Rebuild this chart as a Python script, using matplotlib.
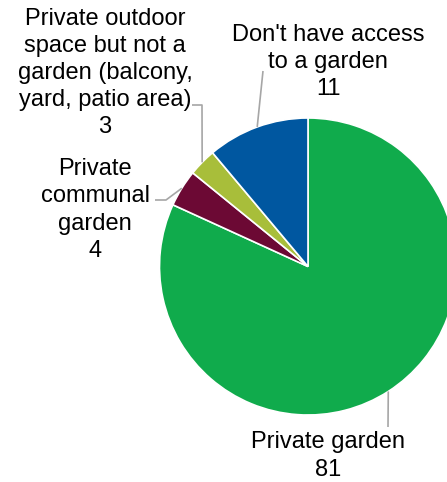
import numpy as np
import matplotlib
matplotlib.use("Agg")
import matplotlib.pyplot as plt

categories = ["Private garden", "Private\ncommunal\ngarden",
              "Private outdoor\nspace but not a\ngarden (balcony,\nyard, patio area)",
              "Don't have access\nto a garden"]
values = [81, 4, 3, 11]
colors = ["#10AB4C", "#6C0934", "#A8BE3A", "#0057A0"]

W, H = 447, 482
fig = plt.figure(figsize=(W / 100, H / 100), dpi=100)
ax = fig.add_axes([0, 0, 1, 1])

cx, cy, r = 308, H - 266.5, 148.5
wedges, _ = ax.pie(values, colors=colors, startangle=90, counterclock=False,
                   center=(cx, cy), radius=r, frame=True,
                   wedgeprops=dict(edgecolor="white", linewidth=1.2))
ax.set_xlim(0, W)
ax.set_ylim(0, H)
ax.axis("off")

# label layout: (leader path after anchor in pixel coords, text center)
layout = [
    ([(388, 427)], (328, 456)),
    ([(166, 200), (155, 200)], (95, 210)),
    ([(202, 105), (192, 105)], (105, 73)),
    ([(263, 71)], (328, 62)),
]
lc = "#A6A6A6"
for w, v, cat, (path, (tx, ty)) in zip(wedges, values, categories, layout):
    mid = np.deg2rad((w.theta1 + w.theta2) / 2)
    ax_ = cx + r * np.cos(mid)
    ay_ = cy + r * np.sin(mid)
    xs = [ax_] + [p[0] for p in path]
    ys = [ay_] + [H - p[1] for p in path]
    ax.plot(xs, ys, color=lc, lw=1.2, solid_capstyle="butt")
    ax.text(tx, H - ty, f"{cat}\n{v}", ha="center", va="center",
            fontsize=17, family="Liberation Sans", linespacing=1.3,
            color="black")

fig.savefig("out.png", dpi=100)
